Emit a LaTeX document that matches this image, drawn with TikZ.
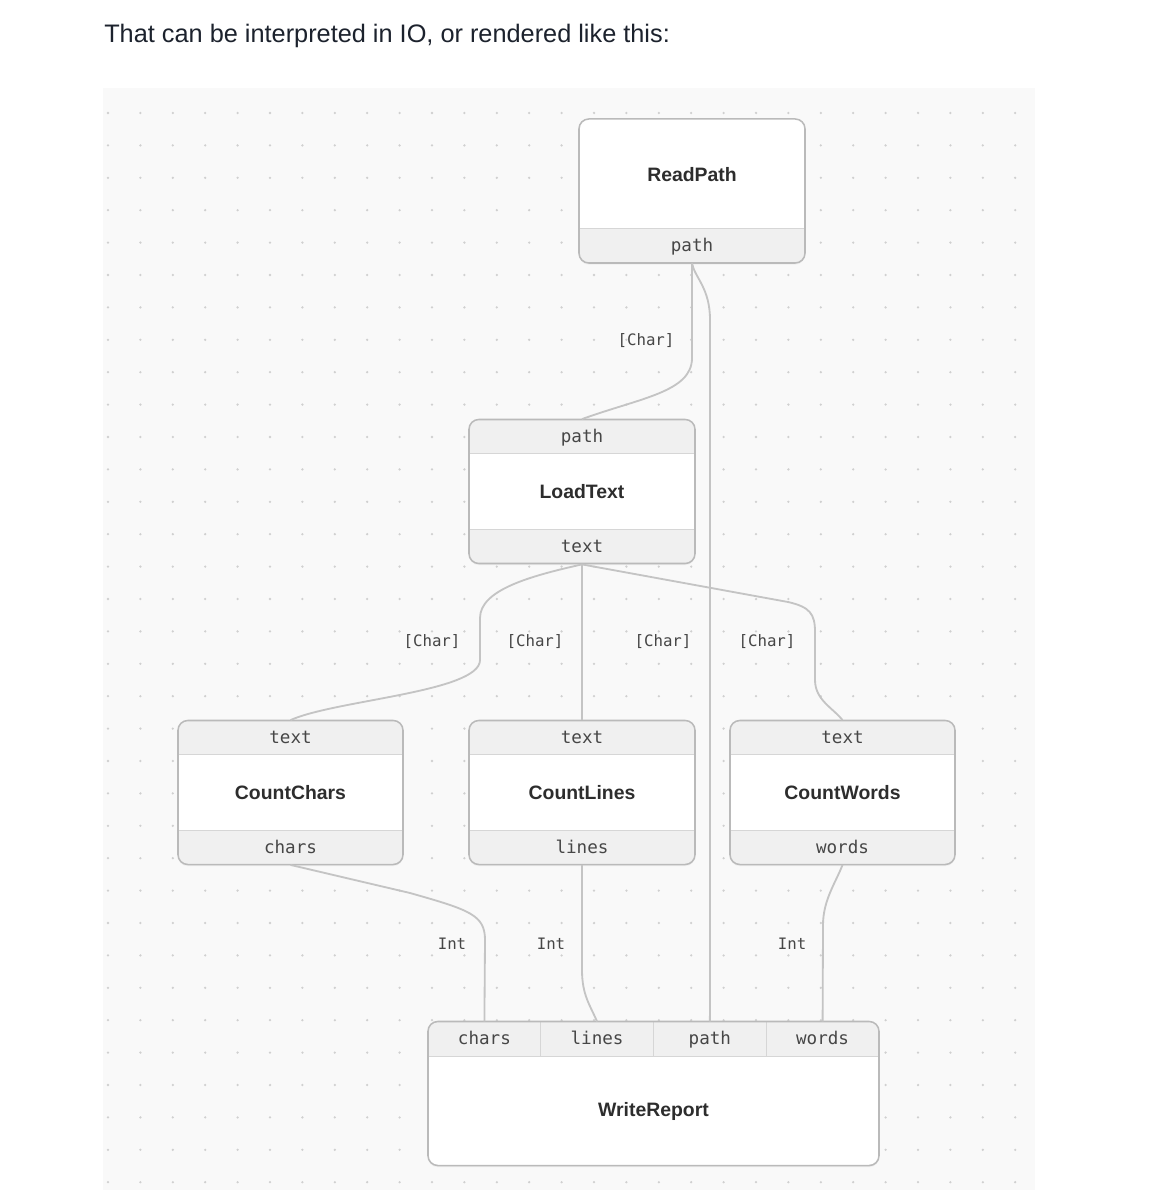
\documentclass[tikz,border=0pt]{standalone}
\usepackage{fontspec}
\setmainfont{Liberation Sans}
\setmonofont{DejaVu Sans Mono}
\usetikzlibrary{positioning, shadows}

\definecolor{panelbg}{RGB}{249,249,249}
\definecolor{dotgray}{RGB}{208,208,208}
\definecolor{wiregray}{RGB}{196,196,196}
\definecolor{frameline}{RGB}{186,186,186}
\definecolor{portfill}{RGB}{240,240,240}
\definecolor{sepline}{RGB}{214,214,214}
\definecolor{inkdark}{RGB}{45,45,45}
\definecolor{inkport}{RGB}{70,70,70}
\definecolor{headink}{RGB}{28,34,45}

\begin{document}
\begin{tikzpicture}[
    x=0.025cm, y=-0.025cm,
    body/.style={fill=white, rounded corners=7pt, minimum height=3.6cm, inner sep=0pt, outer sep=0pt,
        drop shadow={opacity=0.08, shadow xshift=0pt, shadow yshift=-1.2pt}},
    frame/.style={draw=frameline, line width=1.1pt, rounded corners=7pt},
    port/.style={fill=portfill, draw=sepline, line width=0.8pt, minimum height=0.87cm,
        inner sep=0pt, outer sep=0pt, text=inkport, text height=0.9em, text depth=0.06em,
        font=\ttfamily\fontsize{12.5}{14}\selectfont},
    title/.style={text=inkdark, font=\bfseries\fontsize{13.8}{16}\selectfont},
    wire/.style={draw=wiregray, line width=1.3pt},
    wlabel/.style={text=inkport, font=\ttfamily\fontsize{11.2}{13}\selectfont}
]
    \def\px{0.025cm}
    \useasboundingbox (0,0) rectangle (1167,1200);
    \fill[white] (0,0) rectangle (1167,1200);
    \node[anchor=west, text=headink, font=\fontsize{18}{22}\selectfont, inner sep=0pt] (heading) at (104,36)
        {That can be interpreted in IO, or rendered like this:};

    \fill[panelbg] (103,88) rectangle (1035,1190);
    \foreach \i in {0,...,28} {
        \foreach \j in {0,...,33} {
            \fill[dotgray] (108+\i*32.4, 113+\j*32.4) circle (0.9pt);
        }
    }

    \foreach \name/\cx/\cy/\w in {ReadPath/692/191/226, LoadText/582/491.5/226,
        CountChars/290.5/792.5/225, CountLines/582/792.5/226,
        CountWords/842.5/792.5/225, WriteReport/653.5/1093.5/451} {
        \node[body, minimum width=\w*\px] (b\name) at (\cx,\cy) {};
    }

    \foreach \name/\pname/\cx/\cy/\w/\txt in {ReadPath/rpPath/692/246/226/path,
        LoadText/ltPath/582/436.5/226/path, LoadText/ltText/582/547/226/text,
        CountChars/ccText/290.5/737.5/225/text, CountChars/ccChars/290.5/847.5/225/chars,
        CountLines/clText/582/737.5/226/text, CountLines/clLines/582/847.5/226/lines,
        CountWords/cwText/842.5/737.5/225/text, CountWords/cwWords/842.5/847.5/225/words,
        WriteReport/wrChars/484.4/1039/112.75/chars, WriteReport/wrLines/597.1/1039/112.75/lines,
        WriteReport/wrPath/709.9/1039/112.75/path, WriteReport/wrWords/822.6/1039/112.75/words} {
        \begin{scope}
            \clip[rounded corners=7pt] (b\name.north west) rectangle (b\name.south east);
            \node[port, minimum width=\w*\px] (\pname) at (\cx,\cy) {\txt};
        \end{scope}
    }

    \foreach \name/\cx/\ty in {ReadPath/692/175, LoadText/582/492, CountChars/290.5/793,
        CountLines/582/793, CountWords/842.5/793, WriteReport/653.5/1111} {
        \draw[frame] (b\name.north west) rectangle (b\name.south east);
        \node[title] (t\name) at (\cx,\ty) {\name};
    }

    \draw[wire] (rpPath.south) -- (692,358) .. controls (692,392) and (640,398) .. (ltPath.north);
    \draw[wire] (rpPath.south) .. controls (695,278) and (710,288) .. (710,320) -- (wrPath.north);
    \draw[wire] (ltText.south) .. controls (530,576) and (480,590) .. (480,618)
        -- (480,660) .. controls (480,692) and (335,700) .. (ccText.north);
    \draw[wire] (ltText.south) -- (clText.north);
    \draw[wire] (ltText.south) -- (788,602) .. controls (810,607) and (815,614) .. (815,632)
        -- (815,680) .. controls (815,700) and (833,708) .. (cwText.north);
    \draw[wire] (ccChars.south) -- (410,893) .. controls (470,910) and (485,915) .. (485,940)
        -- (wrChars.north);
    \draw[wire] (clLines.south) -- (582,970) .. controls (582,995) and (590,1005) .. (wrLines.north);
    \draw[wire] (cwWords.south) .. controls (836,882) and (823,900) .. (823,925) -- (wrWords.north);

    \node[wlabel] (lbRead) at (646,341) {[Char]};
    \node[wlabel] (lbChars) at (432,642) {[Char]};
    \node[wlabel] (lbLines) at (535,642) {[Char]};
    \node[wlabel] (lbPath) at (663,642) {[Char]};
    \node[wlabel] (lbWords) at (767,642) {[Char]};
    \node[wlabel] (lbIntC) at (452,944) {Int};
    \node[wlabel] (lbIntL) at (551,944) {Int};
    \node[wlabel] (lbIntW) at (792,944) {Int};
\end{tikzpicture}
\end{document}
